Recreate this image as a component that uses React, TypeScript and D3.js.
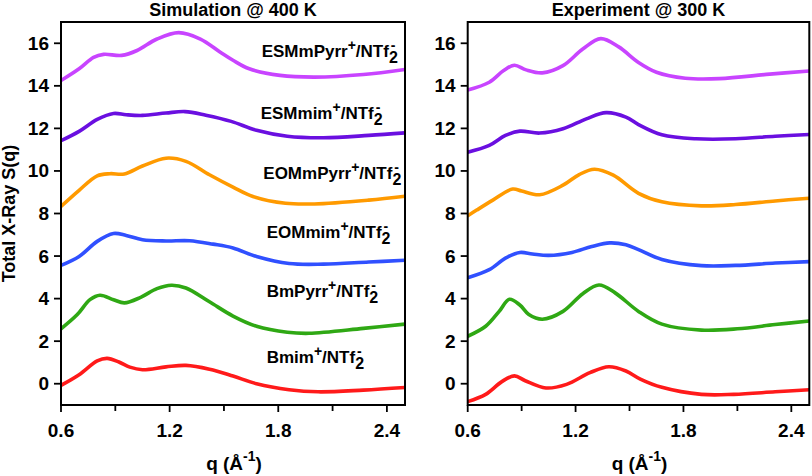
import React from "react";
import * as d3 from "d3";

type P = [number, number];

// Simulation @ 400 K  (q, S(q) with vertical offsets as drawn)
const simBmim: P[] = [[0.6,-0.08],[0.7,0.42],[0.8,1.07],[0.855,1.19],[0.92,1.02],[0.98,0.78],[1.05,0.66],[1.18,0.79],[1.29,0.86],[1.42,0.68],[1.55,0.36],[1.68,0.0],[1.86,-0.28],[2.02,-0.38],[2.27,-0.3],[2.5,-0.18]];
const simBmPyrr: P[] = [[0.6,2.58],[0.69,3.25],[0.76,3.95],[0.815,4.16],[0.89,3.95],[0.95,3.8],[1.04,4.06],[1.13,4.47],[1.21,4.63],[1.29,4.5],[1.42,3.85],[1.55,3.18],[1.68,2.7],[1.85,2.42],[1.97,2.37],[2.27,2.6],[2.5,2.8]];
const simEOMmim: P[] = [[0.6,5.56],[0.7,5.98],[0.8,6.69],[0.89,7.06],[0.96,6.97],[1.05,6.77],[1.18,6.71],[1.31,6.72],[1.44,6.56],[1.55,6.38],[1.68,5.98],[1.86,5.65],[2.05,5.62],[2.3,5.72],[2.5,5.8]];
const simEOMmPyrr: P[] = [[0.6,8.33],[0.7,9.09],[0.8,9.77],[0.87,9.87],[0.95,9.86],[1.05,10.23],[1.18,10.6],[1.29,10.45],[1.42,9.82],[1.55,9.24],[1.66,8.8],[1.84,8.48],[2.0,8.45],[2.3,8.63],[2.5,8.81]];
const simESMmim: P[] = [[0.6,11.42],[0.7,11.86],[0.8,12.42],[0.89,12.7],[0.96,12.64],[1.05,12.61],[1.18,12.72],[1.285,12.79],[1.4,12.62],[1.54,12.33],[1.68,11.91],[1.85,11.63],[2.05,11.56],[2.3,11.67],[2.5,11.79]];
const simESMmPyrr: P[] = [[0.6,14.25],[0.7,14.8],[0.78,15.34],[0.835,15.48],[0.935,15.43],[1.02,15.66],[1.13,16.2],[1.25,16.5],[1.37,16.2],[1.48,15.58],[1.55,15.2],[1.64,14.8],[1.81,14.49],[2.0,14.41],[2.27,14.53],[2.5,14.77]];

// Experiment @ 300 K
const expBmim: P[] = [[0.6,-0.84],[0.7,-0.5],[0.79,0.1],[0.86,0.37],[0.92,0.14],[1.035,-0.2],[1.15,-0.03],[1.28,0.52],[1.385,0.8],[1.48,0.6],[1.56,0.22],[1.68,-0.17],[1.9,-0.5],[2.08,-0.5],[2.31,-0.38],[2.5,-0.28]];
const expBmPyrr: P[] = [[0.6,2.23],[0.7,2.7],[0.775,3.4],[0.832,3.97],[0.89,3.7],[0.94,3.25],[1.015,3.03],[1.13,3.4],[1.24,4.23],[1.33,4.64],[1.42,4.27],[1.55,3.4],[1.68,2.8],[1.9,2.52],[2.1,2.58],[2.31,2.78],[2.5,2.95]];
const expEOMmim: P[] = [[0.6,4.98],[0.72,5.36],[0.81,5.9],[0.89,6.17],[0.96,6.1],[1.05,6.03],[1.18,6.17],[1.29,6.45],[1.39,6.62],[1.48,6.53],[1.55,6.3],[1.68,5.84],[1.9,5.55],[2.09,5.56],[2.31,5.67],[2.5,5.74]];
const expEOMmPyrr: P[] = [[0.6,7.89],[0.65,8.16],[0.74,8.63],[0.85,9.15],[0.9,9.06],[1.0,8.88],[1.13,9.33],[1.22,9.83],[1.305,10.08],[1.41,9.8],[1.55,8.95],[1.68,8.55],[1.9,8.36],[2.09,8.42],[2.31,8.59],[2.5,8.72]];
const expESMmim: P[] = [[0.6,10.88],[0.72,11.2],[0.81,11.67],[0.89,11.87],[1.0,11.78],[1.13,11.98],[1.26,12.45],[1.37,12.74],[1.48,12.53],[1.55,12.18],[1.68,11.7],[1.87,11.51],[2.09,11.51],[2.31,11.63],[2.5,11.71]];
const expESMmPyrr: P[] = [[0.6,13.8],[0.72,14.17],[0.8,14.72],[0.86,14.97],[0.925,14.75],[1.015,14.61],[1.13,14.95],[1.24,15.73],[1.34,16.22],[1.44,15.83],[1.55,15.1],[1.65,14.64],[1.81,14.36],[2.0,14.34],[2.28,14.55],[2.5,14.7]];

const cations = ["Bmim", "BmPyrr", "EOMmim", "EOMmPyrr", "ESMmim", "ESMmPyrr"];
const colors = ["#ff1a1a", "#2fa814", "#3050ff", "#ff9a00", "#6a0fe0", "#c844ff"];
const simSeries = [simBmim, simBmPyrr, simEOMmim, simEOMmPyrr, simESMmim, simESMmPyrr];
const expSeries = [expBmim, expBmPyrr, expEOMmim, expEOMmPyrr, expESMmim, expESMmPyrr];
const labelPos: P[] = [[266.7, 363.3], [266.7, 296.7], [266.7, 238.3], [263.3, 178.7], [260.7, 118.7], [261.7, 57]];

const yTicks = [0, 2, 4, 6, 8, 10, 12, 14, 16];
const xMajor = [0.6, 1.2, 1.8, 2.4];
const xMinor = [0.9, 1.5, 2.1];
const titles = ["Simulation @ 400 K", "Experiment @ 300 K"];

const FONT = "'Liberation Sans', Arial, Helvetica, sans-serif";
const TOP = 22;
const BOTTOM = 405;

function Panel({ x0, x1, title, series, labels, showYLabel }: any) {
  const x = d3.scaleLinear().domain([0.6, 2.5]).range([x0, x1]);
  const y = d3.scaleLinear().domain([-1, 17]).range([BOTTOM, TOP]);
  const line = d3.line<P>().x((d) => x(d[0])).y((d) => y(d[1])).curve(d3.curveCatmullRom.alpha(0.5));
  const cx = (x0 + x1) / 2;
  return (
    <g fontFamily={FONT} fontWeight="bold">
      <defs>
        <clipPath id={`clip${Math.round(x0)}`}>
          <rect x={x0} y={TOP} width={x1 - x0} height={BOTTOM - TOP} />
        </clipPath>
      </defs>
      <text x={cx} y={16} textAnchor="middle" fontSize={18}>{title}</text>
      <g clipPath={`url(#clip${Math.round(x0)})`}>
        {series.map((s: P[], i: number) => (
          <path key={i} d={line(s) || ""} fill="none" stroke={colors[i]} strokeWidth={3.6} strokeLinecap="round" />
        ))}
      </g>
      <rect x={x0} y={TOP} width={x1 - x0} height={BOTTOM - TOP} fill="none" stroke="#000" strokeWidth={2} />
      {yTicks.map((t) => (
        <g key={t}>
          <line x1={x0 - 7} x2={x0} y1={y(t)} y2={y(t)} stroke="#000" strokeWidth={1.8} />
          <text x={x0 - 12} y={y(t) + 6.5} textAnchor="end" fontSize={19}>{t}</text>
        </g>
      ))}
      {xMajor.map((t) => (
        <g key={t}>
          <line x1={x(t)} x2={x(t)} y1={BOTTOM} y2={BOTTOM + 7} stroke="#000" strokeWidth={1.8} />
          <text x={x(t)} y={437} textAnchor="middle" fontSize={19}>{t.toFixed(1)}</text>
        </g>
      ))}
      {xMinor.map((t) => (
        <line key={t} x1={x(t)} x2={x(t)} y1={BOTTOM} y2={BOTTOM + 6} stroke="#000" strokeWidth={1.8} />
      ))}
      <text x={cx + 1} y={470} textAnchor="middle" fontSize={19}>
        q (Å<tspan fontSize={14} dy={-9}>-1</tspan><tspan dy={9}>)</tspan>
      </text>
      {showYLabel && (
        <text transform={`translate(15,${(TOP + BOTTOM) / 2}) rotate(-90)`} textAnchor="middle" fontSize={18}>
          Total X-Ray S(q)
        </text>
      )}
      {labels &&
        cations.map((c, i) => (
          <text key={c} x={labelPos[i][0]} y={labelPos[i][1]} fontSize={17}>
            {c}
            <tspan fontSize={14} dy={-7}>+</tspan>
            <tspan dy={7}>/NTf</tspan>
            <tspan fontSize={16} dy={6}>2</tspan>
            <tspan fontSize={14} dx={-7} dy={-13}>-</tspan>
          </text>
        ))}
    </g>
  );
}

export default function App() {
  return (
    <svg width={812} height={476} style={{ position: "absolute", left: 0, top: 0, background: "#fff" }}>
      <rect width={812} height={476} fill="#fff" />
      <Panel x0={61} x1={405} title={titles[0]} series={simSeries} labels showYLabel />
      <Panel x0={467.7} x1={809.3} title={titles[1]} series={expSeries} labels={false} showYLabel={false} />
    </svg>
  );
}
